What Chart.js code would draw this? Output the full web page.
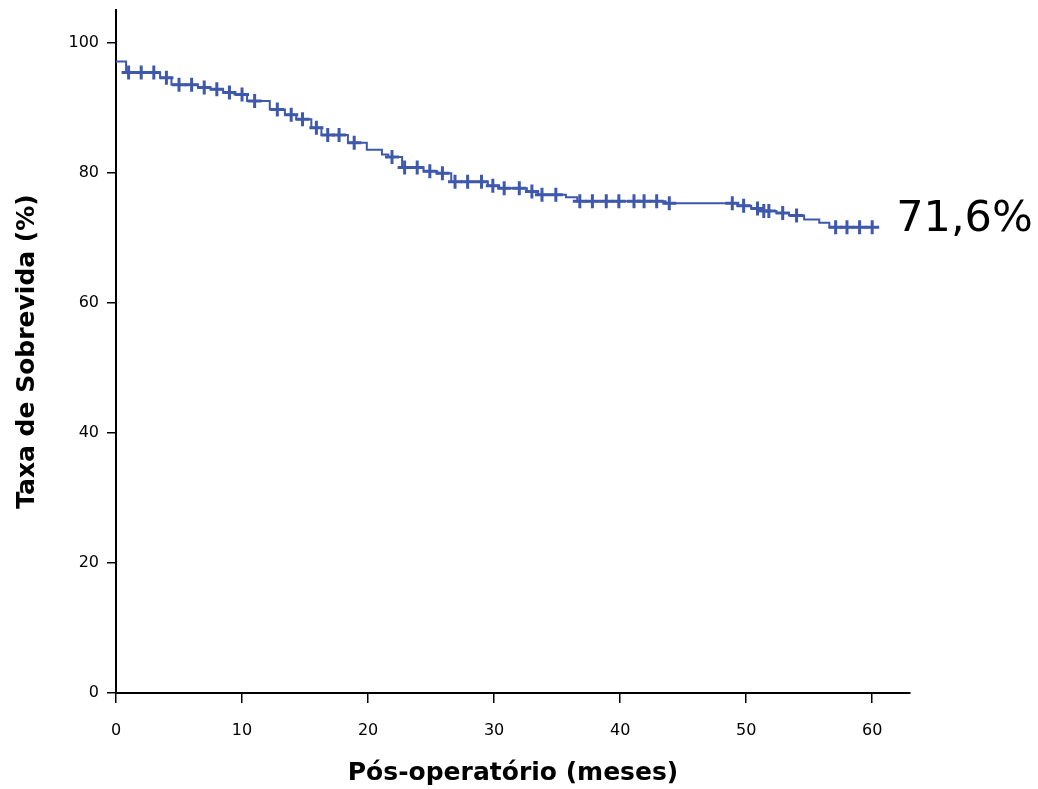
<!DOCTYPE html>
<html>
<head>
<meta charset="utf-8">
<script src="https://cdn.jsdelivr.net/npm/chart.js@4/dist/chart.umd.min.js"></script>
<style>
  html, body { margin: 0; padding: 0; background: #fff; }
  #wrap { width: 1038px; height: 789px; position: relative; }
</style>
</head>
<body>
<div id="wrap"><canvas id="kmChart"></canvas></div>
<script>
// Kaplan-Meier curve: survival (%) after each step, by month
const stepTimes = [0, 0.8, 3.5, 4.4, 6.5, 7.5, 8.5, 9.4, 10.4, 12.2, 13.4, 14.3, 15.5, 16.3, 18.4, 19.9,
  21.1, 21.6, 22.7, 24.4, 25.5, 26.6, 29.5, 30.4, 32.6, 33.5, 35.7, 36.6, 43.6, 49.3, 50.4, 51.2,
  52.4, 53.4, 54.6, 55.8, 56.6, 60];
const stepSurvival = [97.1, 95.4, 94.6, 93.5, 93.1, 92.8, 92.3, 92.0, 91.0, 89.7, 88.9, 88.2, 86.9, 85.8, 84.6, 83.5,
  82.8, 82.4, 80.8, 80.2, 79.9, 78.6, 78.0, 77.6, 77.1, 76.6, 76.2, 75.6, 75.3, 74.9, 74.5, 74.1,
  73.8, 73.4, 72.8, 72.3, 71.6, 71.6];

// censored cases (+ marks)
const censorTimes = [1, 2, 3, 4, 5, 6, 7, 8, 9, 10, 11, 12.8, 13.9, 14.8, 15.9, 16.8, 17.7, 18.9,
  21.9, 22.9, 23.9, 24.9, 25.9, 26.9, 27.9, 29, 29.9, 30.8, 32, 33, 33.8, 34.9, 36.8, 37.8, 38.9,
  39.9, 41.1, 41.9, 42.9, 43.9, 48.9, 49.8, 50.9, 51.4, 51.8, 52.9, 54, 57.1, 58, 59, 60];
const censorSurvival = [95.4, 95.4, 95.4, 94.6, 93.5, 93.5, 93.1, 92.8, 92.3, 92.0, 91.0, 89.7, 88.9, 88.2, 86.9, 85.8, 85.8, 84.6,
  82.4, 80.8, 80.8, 80.2, 79.9, 78.6, 78.6, 78.6, 78.0, 77.6, 77.6, 77.1, 76.6, 76.6, 75.6, 75.6, 75.6,
  75.6, 75.6, 75.6, 75.6, 75.3, 75.3, 74.9, 74.5, 74.1, 74.1, 73.8, 73.4, 71.6, 71.6, 71.6, 71.6];

const xTicks = [0, 10, 20, 30, 40, 50, 60];
const yTicks = [0, 20, 40, 60, 80, 100];
const finalLabel = '71,6%';
const finalValue = 71.6;

const curveColor = '#3e58ac';
const tickFont = { family: 'DejaVu Sans', size: 16 };
const titleFont = { family: 'DejaVu Sans', size: 25, weight: 'bold' };

const finalLabelPlugin = {
  id: 'finalLabel',
  afterDatasetsDraw(chart) {
    const { ctx, scales } = chart;
    const x = scales.x.getPixelForValue(60) + 24;
    const y = scales.y.getPixelForValue(finalValue) + 4;
    ctx.save();
    ctx.fillStyle = '#000';
    ctx.font = '43px "DejaVu Sans"';
    ctx.textAlign = 'left';
    ctx.textBaseline = 'alphabetic';
    ctx.fillText(finalLabel, x, y);
    ctx.restore();
  }
};

const keepTicks = (list) => (scale) => {
  scale.ticks = list.map(v => ({ value: v }));
};

new Chart(document.getElementById('kmChart'), {
  type: 'line',
  data: {
    datasets: [{
      data: stepTimes.map((t, i) => ({ x: t, y: stepSurvival[i] })),
      borderColor: curveColor,
      borderWidth: 2,
      stepped: 'before',
      pointRadius: 0,
      fill: false
    }, {
      data: censorTimes.map((t, i) => ({ x: t, y: censorSurvival[i] })),
      showLine: false,
      pointStyle: 'cross',
      pointRadius: 7,
      pointBorderWidth: 3,
      pointBorderColor: curveColor,
      borderColor: curveColor
    }]
  },
  options: {
    responsive: true,
    maintainAspectRatio: false,
    animation: false,
    layout: { padding: { left: 0, right: 128, top: 10, bottom: 0 } },
    plugins: {
      legend: { display: false },
      tooltip: { enabled: false }
    },
    scales: {
      x: {
        type: 'linear',
        min: 0,
        max: 63,
        afterBuildTicks: keepTicks(xTicks),
        afterFit: (scale) => { scale.height = 96; scale.paddingLeft = 0; scale.paddingRight = 0; },
        grid: { display: true, drawOnChartArea: false, drawTicks: true, tickLength: 10, color: '#000', lineWidth: 1.5 },
        border: { display: true, color: '#000', width: 2 },
        ticks: { color: '#000', font: tickFont, padding: 18, maxRotation: 0 },
        title: { display: true, text: 'Pós-operatório (meses)', color: '#000', font: titleFont, padding: { top: 0, bottom: 1 } }
      },
      y: {
        type: 'linear',
        min: 0,
        max: 105,
        afterBuildTicks: keepTicks(yTicks),
        afterFit: (scale) => { scale.width = 116; scale.paddingTop = 0; scale.paddingBottom = 0; },
        grid: { display: true, drawOnChartArea: false, drawTicks: true, tickLength: 9, color: '#000', lineWidth: 1.5 },
        border: { display: true, color: '#000', width: 2 },
        ticks: { color: '#000', font: tickFont, padding: 8 },
        title: { display: true, text: 'Taxa de Sobrevida (%)', color: '#000', font: titleFont, padding: { top: 12, bottom: 0 } }
      }
    }
  },
  plugins: [finalLabelPlugin]
});
</script>
</body>
</html>
